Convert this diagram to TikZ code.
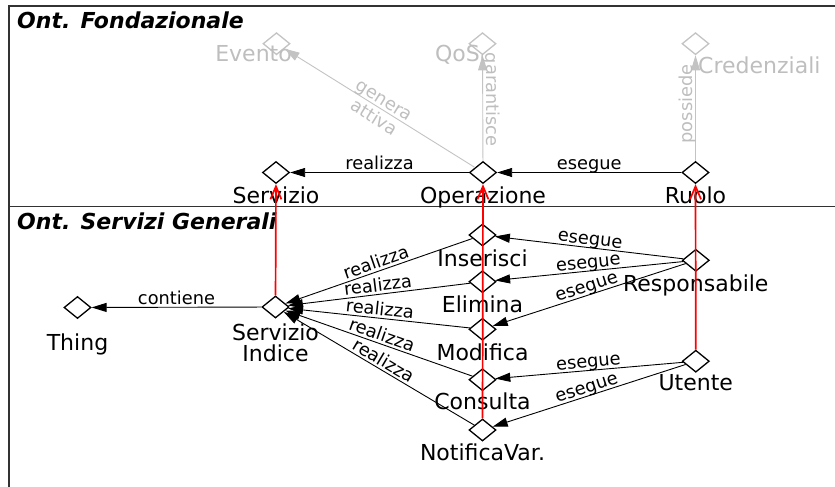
\documentclass[tikz,border=0pt]{standalone}
\usepackage{fontspec}
\setmainfont{DejaVu Sans}[ItalicFont={DejaVu Sans Oblique},BoldFont={DejaVu Sans Bold},BoldItalicFont={DejaVu Sans Bold Oblique}]
\usetikzlibrary{shapes.geometric,arrows.meta}
\definecolor{grayc}{RGB}{190,190,190}
\definecolor{grayl}{RGB}{195,195,195}
\definecolor{framec}{RGB}{50,50,50}
\begin{document}
\begin{tikzpicture}[x=1pt,y=-1pt,
  dia/.style={shape=diamond, draw=black, line width=1.3pt, minimum width=27pt, minimum height=22pt, inner sep=0pt},
  gdia/.style={dia, draw=grayl},
  lbl/.style={font=\fontsize{22}{23}\selectfont, anchor=base, inner sep=0pt, align=center},
  glbl/.style={lbl, text=grayc},
  elbl/.style={font=\fontsize{17.8}{19}\selectfont, inner sep=2.5pt, text depth=0pt, sloped},
  gelbl/.style={elbl, text=grayc, inner sep=3pt},
  arr/.style={-{Triangle[length=15pt,width=9pt]}, line width=0.9pt, draw=black},
  garr/.style={arr, draw=grayl},
  redarr/.style={-{Straight Barb[length=13pt,width=11pt]}, draw=red, line width=1.7pt},
  titlefont/.style={font=\fontsize{22}{24}\selectfont\bfseries\itshape, anchor=base west, inner sep=0pt},
  framel/.style={draw=framec, line width=1.3pt}
]
\useasboundingbox (0,0) rectangle (835,487);
% frame
\coordinate (fbl) at (9,487);
\coordinate (ftl) at (9,6);
\coordinate (ftr) at (835,6);
\coordinate (fml) at (9,206.5);
\coordinate (fmr) at (835,206.5);
\draw[framel] (fbl) -- (ftl) -- (ftr);
\draw[framel] (fml) -- (fmr);
\node[titlefont] (t1) at (17,29) {Ont. Fondazionale};
\node[titlefont] (t2) at (17,229) {Ont. Servizi Generali};

% diamonds
\node[gdia] (evento) at (276.5,43.7) {};
\node[gdia] (qos) at (482.5,43.7) {};
\node[gdia] (cred) at (695.5,43.7) {};
\node[dia] (serv) at (276,172.5) {};
\node[dia] (oper) at (483,172.5) {};
\node[dia] (ruolo) at (695.5,172.5) {};
\node[dia] (thing) at (77.5,307.5) {};
\node[dia] (si) at (275.5,307) {};
\node[dia] (ins) at (482.5,235) {};
\node[dia] (elim) at (482.5,281.7) {};
\node[dia] (mod) at (482.5,329.3) {};
\node[dia] (cons) at (482.5,379.7) {};
\node[dia] (notif) at (482.5,430) {};
\node[dia] (resp) at (695.8,260.3) {};
\node[dia] (utente) at (695.8,361.2) {};

% labels
\node[glbl, anchor=base east] (evento-l) at (292,62) {Evento};
\node[glbl, anchor=base east] (qos-l) at (480,62) {QoS};
\node[glbl, anchor=base west] (cred-l) at (698,74) {Credenziali};
\node[lbl] (serv-l) at (276,203.5) {Servizio};
\node[lbl] (oper-l) at (483,203.5) {Operazione};
\node[lbl] (ruolo-l) at (695.5,203.5) {Ruolo};
\node[lbl] (thing-l) at (77.5,350.7) {Thing};
\node[lbl] (si-l) at (275.5,361) {Servizio\\[-2pt]Indice};
\node[lbl] (ins-l) at (482.5,266) {Inserisci};
\node[lbl] (elim-l) at (482.5,312.3) {Elimina};
\node[lbl] (mod-l) at (482.5,360) {Modifica};
\node[lbl] (cons-l) at (482.5,409.3) {Consulta};
\node[lbl] (notif-l) at (482.5,460) {NotificaVar.};
\node[lbl] (resp-l) at (695.8,291) {Responsabile};
\node[lbl] (utente-l) at (695.8,390.7) {Utente};

% foundational edges
\draw[arr] (oper) -- node[elbl, above] (e1) {realizza} (serv);
\draw[arr] (ruolo) -- node[elbl, above] (e2) {esegue} (oper);
\draw[garr] (oper) -- node[gelbl, above] (e3) {genera} node[gelbl, below] (e4) {attiva} (evento);
\draw[garr] (oper) -- node[gelbl, above, pos=0.58] (e5) {garantisce} (qos);
\draw[garr] (ruolo) -- node[gelbl, above, pos=0.54] (e6) {possiede} (cred);

% general services edges
\draw[arr] (si) -- node[elbl, above] (e7) {contiene} (thing);
\draw[arr] (ins) -- node[elbl, above] (r1) {realizza} (si);
\draw[arr] (elim) -- node[elbl, above] (r2) {realizza} (si);
\draw[arr] (mod) -- node[elbl, above] (r3) {realizza} (si);
\draw[arr] (cons) -- node[elbl, above] (r4) {realizza} (si);
\draw[arr] (notif) -- node[elbl, above] (r5) {realizza} (si);
\draw[arr] (resp) -- node[elbl, above] (s1) {esegue} (ins);
\draw[arr] (resp) -- node[elbl, above] (s2) {esegue} (elim);
\draw[arr] (resp) -- node[elbl, above] (s3) {esegue} (mod);
\draw[arr] (utente) -- node[elbl, above] (s4) {esegue} (cons);
\draw[arr] (utente) -- node[elbl, above] (s5) {esegue} (notif);

% red mapping arrows
\draw[redarr] (si) -- (serv);
\draw[redarr] (notif) -- (oper);
\draw[redarr] (utente) -- (ruolo);
\end{tikzpicture}
\end{document}
